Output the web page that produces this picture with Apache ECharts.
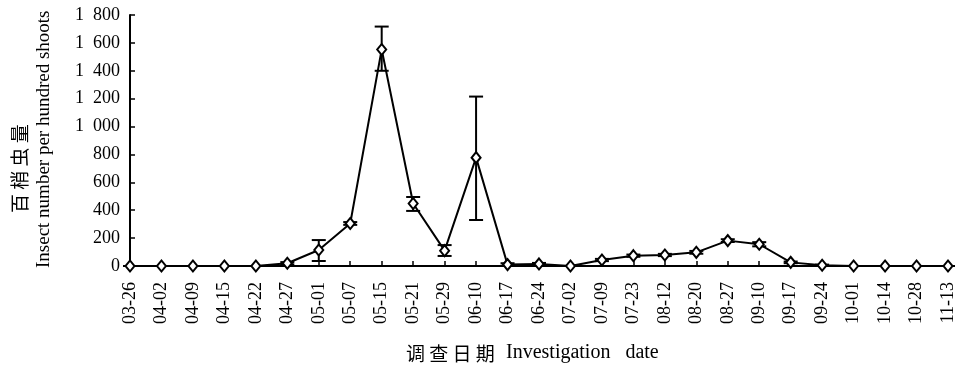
<!DOCTYPE html>
<html><head><meta charset="utf-8">
<script src="https://cdn.jsdelivr.net/npm/echarts@6/dist/echarts.min.js"></script>
<style>html,body{margin:0;padding:0;background:#fff}#c{width:957px;height:374px}</style>
</head><body><div id="c"></div>
<script>
const categories = ['03-26','04-02','04-09','04-15','04-22','04-27','05-01','05-07','05-15','05-21','05-29','06-10','06-17','06-24','07-02','07-09','07-23','08-12','08-20','08-27','09-10','09-17','09-24','10-01','10-14','10-28','11-13'];
const meanValues = [0,0,0,0,0,20,115,305,1553,448,110,777,10,15,0,43,74,79,98,182,156,26,5,0,0,0,0];
const errLow =    [0,0,0,0,0,12,36,295,1400,395,72,330,2,8,0,35,66,71,88,172,141,20,0,0,0,0,0];
const errHigh =   [0,0,0,0,0,28,186,315,1717,495,150,1215,20,22,0,51,82,87,108,192,171,32,10,0,0,0,0];
const yTicks = [0,200,400,600,800,1000,1200,1400,1600,1800];

const FONT = '"Liberation Serif", "Noto Sans CJK SC", serif';
const errData = categories.map((c,i)=>[i, errLow[i], errHigh[i]]);

const chart = echarts.init(document.getElementById('c'));
chart.setOption({
  animation:false,
  grid:{left:130,right:8,top:15,bottom:108,containLabel:false},
  xAxis:{
    type:'category', data:categories, boundaryGap:false,
    axisLine:{lineStyle:{color:'#000',width:2}},
    axisTick:{inside:true,length:5,interval:0,lineStyle:{color:'#000',width:1.5}},
    axisLabel:{rotate:90,interval:0,margin:16,color:'#000',fontFamily:FONT,fontSize:18}
  },
  yAxis:{
    type:'value', min:0, max:1800, interval:200,
    splitLine:{show:false},
    axisLine:{show:true,lineStyle:{color:'#000',width:2}},
    axisTick:{show:true,inside:true,length:5,lineStyle:{color:'#000',width:1.5}},
    axisLabel:{margin:10,color:'#000',fontFamily:FONT,fontSize:18,
      formatter:v=>{ if(yTicks.indexOf(v)<0) return ''; return v>=1000 ? Math.floor(v/1000)+'  '+String(v%1000).padStart(3,'0') : String(v);} }
  },
  graphic:[
    {type:'text',rotation:Math.PI/2,x:10,y:213,style:{text:'百 梢 虫 量',font:'19px "Noto Sans CJK SC", serif',fill:'#000'}},
    {type:'text',rotation:Math.PI/2,x:35,y:268,style:{text:'Insect number per hundred shoots',font:'19px "Liberation Serif", serif',fill:'#000'}},
    {type:'text',x:406,y:344,style:{text:'调 查 日 期',font:'19px "Noto Sans CJK SC", serif',fill:'#000'}},
    {type:'text',x:506,y:343,style:{text:'Investigation   date',font:'20px "Liberation Serif", serif',fill:'#000'}}
  ],
  series:[
    {type:'custom', data:errData, z:2,
      renderItem:(params,api)=>{
        const x=api.value(0);
        const lo=api.coord([x,api.value(1)]);
        const hi=api.coord([x,api.value(2)]);
        const w=7;
        const st={stroke:'#000',lineWidth:2,fill:null};
        return {type:'group',children:[
          {type:'line',shape:{x1:lo[0],y1:lo[1],x2:hi[0],y2:hi[1]},style:st},
          {type:'line',shape:{x1:lo[0]-w,y1:lo[1],x2:lo[0]+w,y2:lo[1]},style:st},
          {type:'line',shape:{x1:hi[0]-w,y1:hi[1],x2:hi[0]+w,y2:hi[1]},style:st}
        ]};
      }
    },
    {type:'line', data:meanValues, z:5, symbol:'diamond', symbolSize:[9,11],
      lineStyle:{color:'#000',width:2},
      itemStyle:{color:'#fff',borderColor:'#000',borderWidth:2}}
  ]
});
</script></body></html>
